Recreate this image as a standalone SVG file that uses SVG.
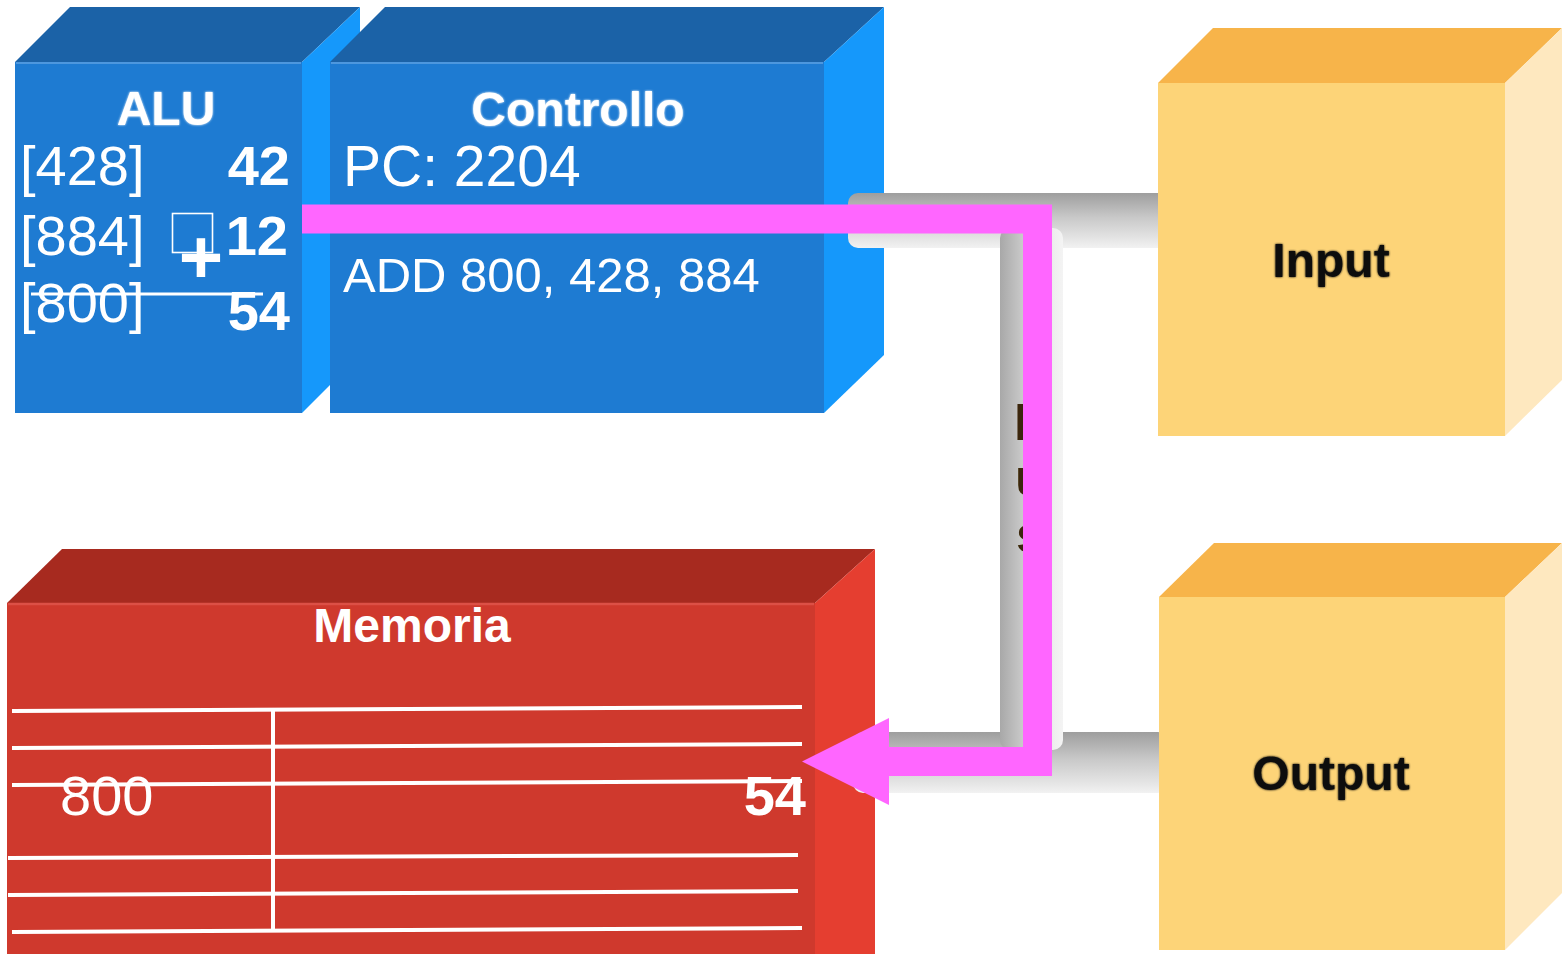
<svg xmlns="http://www.w3.org/2000/svg" width="1564" height="954" viewBox="0 0 1564 954">
  <defs>
    <style>
      .txt { font-family: "Liberation Sans", Arial, sans-serif; fill: #ffffff; }
      .b { font-weight: bold; }
      .title { font-family: "Liberation Sans", Arial, sans-serif; font-weight: bold; font-size: 48px; fill: #ffffff; text-anchor: middle; }
      .dark { font-family: "Liberation Sans", Arial, sans-serif; font-weight: bold; font-size: 48px; fill: #111111; text-anchor: middle; }
      .blue-front { fill: #1e7bd2; }
      .blue-top { fill: #1b62a7; }
      .blue-side { fill: #1598fb; }
      .red-front { fill: #cf392d; }
      .red-top { fill: #a72a1f; }
      .red-side { fill: #e53e30; }
      .y-front { fill: #fdd478; }
      .y-top { fill: #f7b44a; }
      .y-side { fill: #fee8bf; }
      .grid { stroke: #ffffff; stroke-width: 4; fill: none; }
      .edge-blue { stroke: #4d97de; stroke-width: 2; fill: none; }
      .edge-red { stroke: #dc5046; stroke-width: 2.5; fill: none; }
    </style>
    <linearGradient id="pipeH" x1="0" y1="0" x2="0" y2="1">
      <stop offset="0" stop-color="#9e9e9e"/>
      <stop offset="0.45" stop-color="#c9c9c9"/>
      <stop offset="0.85" stop-color="#e6e6e6"/>
      <stop offset="1" stop-color="#f2f2f2"/>
    </linearGradient>
    <linearGradient id="pipeV" x1="0" y1="0" x2="1" y2="0">
      <stop offset="0" stop-color="#a8a8a8"/>
      <stop offset="0.4" stop-color="#cdcdcd"/>
      <stop offset="0.8" stop-color="#ececec"/>
      <stop offset="1" stop-color="#f4f4f4"/>
    </linearGradient>
    <filter id="glow" x="-10%" y="-20%" width="120%" height="140%">
      <feGaussianBlur stdDeviation="1.3" result="b"/>
      <feMerge><feMergeNode in="b"/><feMergeNode in="SourceGraphic"/></feMerge>
    </filter>
    <filter id="soft" x="-10%" y="-20%" width="120%" height="140%">
      <feGaussianBlur stdDeviation="0.7"/>
    </filter>
  </defs>

  <rect width="1564" height="954" fill="#ffffff"/>

  <!-- Memoria -->
  <g id="memoria">
    <polygon class="red-top" points="7,603 62,549 875,549 815,603"/>
    <polygon class="red-side" points="815,603 875,549 875,954 815,954"/>
    <rect class="red-front" x="7" y="603" width="808" height="351"/>
    <line class="edge-red" x1="8" y1="604" x2="814" y2="604"/>
    <text class="title" x="412" y="642">Memoria</text>
    <path class="grid" d="M12,711 L802,707 M12,748 L802,744 M12,785 L802,781 M8,858 L798,855 M8,895 L798,891 M12,932 L802,928"/>
    <line x1="273" y1="709" x2="273" y2="930" stroke="#ffffff" stroke-width="4"/>
    <text class="txt" x="60" y="815" font-size="56">800</text>
    <text class="txt b" x="806" y="815" font-size="56" text-anchor="end">54</text>
  </g>

  <!-- ALU -->
  <g id="alu">
    <polygon class="blue-top" points="15,62 70,7 360,7 302,62"/>
    <polygon class="blue-side" points="302,62 360,7 360,355 302,413"/>
    <rect class="blue-front" x="15" y="62" width="287" height="351"/>
    <line class="edge-blue" x1="16" y1="63" x2="301" y2="63"/>
    <text class="title" x="166" y="125" filter="url(#glow)">ALU</text>
    <text class="txt" x="20" y="185" font-size="56">[428]</text>
    <text class="txt b" x="290" y="185" font-size="56" text-anchor="end">42</text>
    <text class="txt" x="20" y="255" font-size="56">[884]</text>
    <rect x="172.5" y="213.5" width="40" height="39" fill="none" stroke="#ffffff" stroke-width="1.6"/>
    <text class="txt b" x="201" y="283" font-size="76" text-anchor="middle">+</text>
    <text class="txt b" x="288" y="255" font-size="56" text-anchor="end">12</text>
    <text class="txt" x="20" y="322" font-size="56">[800]</text>
    <text class="txt b" x="290" y="330" font-size="56" text-anchor="end">54</text>
    <line x1="31" y1="294" x2="263" y2="294" stroke="#ffffff" stroke-width="3"/>
  </g>

  <!-- Controllo -->
  <g id="controllo">
    <polygon class="blue-top" points="330,62 385,7 884,7 824,62"/>
    <polygon class="blue-side" points="824,62 884,7 884,355 824,413"/>
    <rect class="blue-front" x="330" y="62" width="494" height="351"/>
    <line class="edge-blue" x1="331" y1="63" x2="823" y2="63"/>
    <text class="title" x="578" y="126" filter="url(#glow)">Controllo</text>
    <text class="txt" x="343" y="186" font-size="57">PC: 2204</text>
    <text class="txt" x="343" y="292" font-size="49">ADD 800, 428, 884</text>
  </g>

  <!-- Bus pipes -->
  <g id="bus">
    <rect x="848" y="193" width="320" height="55" rx="10" fill="url(#pipeH)"/>
    <rect x="853" y="732" width="315" height="61" rx="10" fill="url(#pipeH)"/>
    <rect x="1000" y="228" width="63" height="522" rx="10" fill="url(#pipeV)"/>
    <g fill="#3b2608" filter="url(#soft)" font-family="Liberation Sans, Arial, sans-serif" font-size="52" font-weight="bold">
      <text x="1014" y="440">B</text>
      <text x="1015" y="495">u</text>
      <text x="1016" y="552">s</text>
    </g>
  </g>

  <!-- Input -->
  <g id="input">
    <polygon class="y-top" points="1158,83 1213,28 1562,28 1505,83"/>
    <polygon class="y-side" points="1505,83 1562,28 1562,380 1505,436"/>
    <rect class="y-front" x="1158" y="83" width="347" height="353"/>
    <text class="dark" x="1331" y="277" filter="url(#glow)">Input</text>
  </g>

  <!-- Output -->
  <g id="output">
    <polygon class="y-top" points="1159,597 1214,543 1562,543 1505,597"/>
    <polygon class="y-side" points="1505,597 1562,543 1562,893 1505,950"/>
    <rect class="y-front" x="1159" y="597" width="346" height="353"/>
    <text class="dark" x="1331" y="790" filter="url(#glow)">Output</text>
  </g>

  <!-- Data path from ALU to memory -->
  <g id="connectors">
    <polyline points="302,219 1037.5,219 1037.5,761.5 886,761.5" fill="none" stroke="#ff66ff" stroke-width="29" stroke-linejoin="miter"/>
    <polygon points="889,718 802,761.5 889,805" fill="#ff66ff"/>
  </g>
</svg>
